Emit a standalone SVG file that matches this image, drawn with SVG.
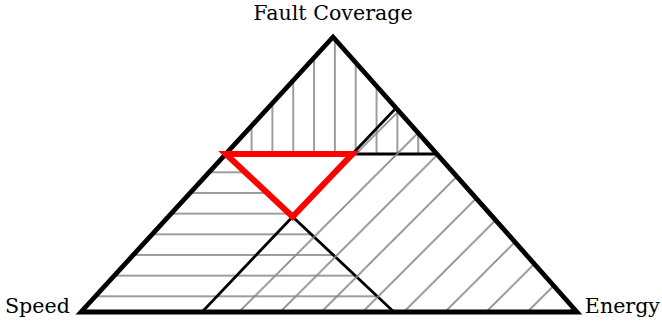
<svg xmlns="http://www.w3.org/2000/svg" width="662" height="324" viewBox="0 0 662 324">
<style>
.lbl{font-family:"DejaVu Serif","Liberation Serif",serif;font-size:20.6px;fill:#000}
.hatch{stroke:#858585;stroke-width:1.6;fill:none}
.inner{stroke:#000;stroke-width:2.8;stroke-linejoin:miter}
.outer{fill:none;stroke:#000;stroke-width:4.8;stroke-linejoin:miter}
.red{fill:none;stroke:#ff0000;stroke-width:6;stroke-linejoin:miter}
</style>
<defs>
<pattern id="pv" patternUnits="userSpaceOnUse" x="334.9" y="0" width="20.83" height="20">
<line class="hatch" x1="0" y1="0" x2="0" y2="20"/>
<line class="hatch" x1="20.83" y1="0" x2="20.83" y2="20"/>
</pattern>
<pattern id="ph" patternUnits="userSpaceOnUse" x="0" y="172.3" width="20" height="20.67">
<line class="hatch" x1="0" y1="0" x2="20" y2="0"/>
<line class="hatch" x1="0" y1="20.67" x2="20" y2="20.67"/>
</pattern>
<pattern id="pd" patternUnits="userSpaceOnUse" x="239" y="270.8" width="41.2" height="41.2">
<line class="hatch" x1="0" y1="41.2" x2="41.2" y2="0"/>
<line class="hatch" x1="-2" y1="2" x2="2" y2="-2"/>
<line class="hatch" x1="39.2" y1="43.2" x2="43.2" y2="39.2"/>
</pattern>
</defs>
<g id="fault-region">
<polygon points="333,37 225.8,154 436.8,154" fill="url(#pv)" class="inner"/>
</g>
<g id="speed-region">
<polygon points="81,312 225.8,154 394,312" fill="url(#ph)" class="inner"/>
</g>
<g id="energy-region">
<polygon points="577,312 396,108 202,312" fill="url(#pd)" class="inner"/>
</g>
<g id="main-triangle">
<polygon points="333,37 81,312 577,312" class="outer"/>
</g>
<g id="optimum">
<polygon points="225.8,154 352.3,154 292.6,216.7" class="red"/>
</g>
<g id="labels">
<text class="lbl" x="333" y="20" text-anchor="middle">Fault Coverage</text>
<text class="lbl" x="5" y="313">Speed</text>
<text class="lbl" x="660" y="313" text-anchor="end">Energy</text>
</g>
</svg>
